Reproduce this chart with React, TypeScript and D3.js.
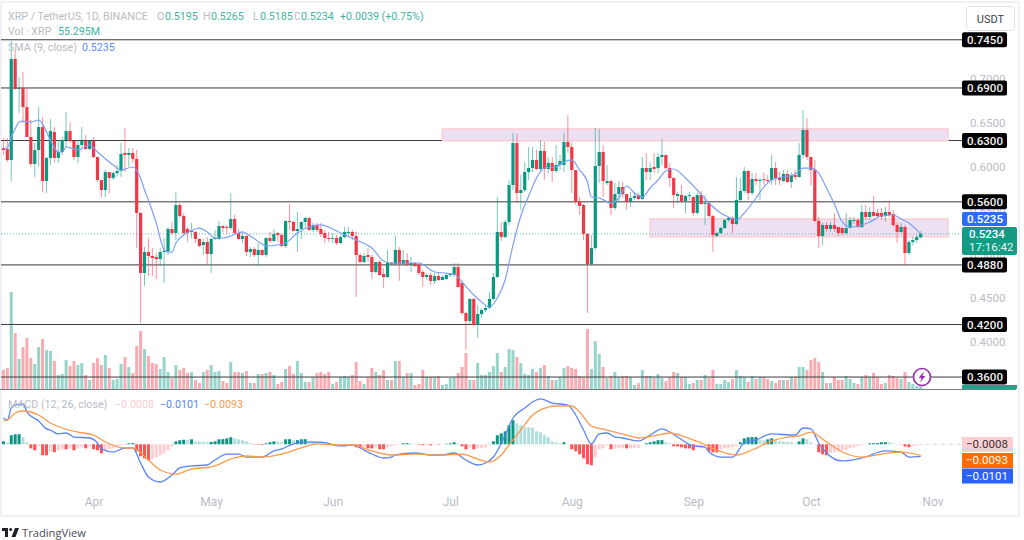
import React, { useEffect, useRef } from "react";
import * as d3 from "d3";

// Daily XRP/USDT candles. Index 0 is 9 March.
const opens = [
  .6214,.6203,.6078,.7231,.6888,.6899,.6682,.6340,.6032,.6192,
  .6454,.5838,.6101,.6397,.6101,.6169,.6306,.6408,.6294,.6112,
  .6249,.6294,.6203,.6294,.6112,.5849,.5735,.5940,.5872,.5929,
  .5952,.6158,.6135,.6158,.6090,.5473,.4788,.5027,.4982,.4970,
  .4947,.5027,.5039,.5290,.5244,.5564,.5438,.5290,.5256,.5256,
  .5176,.5107,.5141,.5005,.5176,.5176,.5324,.5313,.5301,.5404,
  .5244,.5176,.5210,.5027,.5061,.4993,.5050,.4993,.5187,.5153,
  .5244,.5221,.5096,.5381,.5370,.5267,.5290,.5370,.5416,.5279,
  .5336,.5290,.5244,.5187,.5176,.5187,.5130,.5198,.5244,.5256,
  .5210,.4993,.4913,.4993,.4970,.4799,.4913,.4776,.4742,.4902,
  .4891,.5050,.4891,.4936,.4879,.4902,.4879,.4799,.4742,.4765,
  .4697,.4753,.4708,.4719,.4765,.4765,.4856,.4674,.4331,.4240,
  .4491,.4194,.4319,.4365,.4388,.4491,.4742,.5256,.5198,.5370,
  .5792,.6272,.5701,.5735,.5940,.5986,.6078,.5975,.6181,.5975,
  .6044,.5952,.6021,.6021,.6283,.6226,.5963,.5610,.5564,.5233,
  .4890,.5073,.6009,.6169,.5815,.5838,.5530,.5689,.5769,.5689,
  .5598,.5644,.5678,.5632,.5986,.5940,.5998,.5986,.6112,.6135,
  .5986,.5872,.5667,.5678,.5610,.5667,.5655,.5473,.5678,.5575,
  .5587,.5438,.5210,.5244,.5301,.5393,.5416,.5347,.5621,.5724,
  .5952,.5701,.5860,.5838,.5860,.5849,.5849,.5986,.5872,.5838,
  .5918,.5826,.5906,.5884,.6135,.6420,.6112,.5963,.5381,.5210,
  .5336,.5290,.5336,.5313,.5301,.5244,.5301,.5381,.5393,.5313,
  .5484,.5427,.5484,.5473,.5473,.5438,.5484,.5461,.5336,.5256,
  .5313,.5016,.5141,.5164,.5195
];

const closes = [
  .6192,.6078,.7231,.6888,.6899,.6682,.6340,.6032,.6192,.6454,
  .5838,.6101,.6408,.6101,.6169,.6306,.6408,.6294,.6112,.6249,
  .6294,.6203,.6294,.6112,.5849,.5735,.5940,.5872,.5929,.5952,
  .6147,.6135,.6158,.6090,.5473,.4788,.5027,.4982,.4959,.4947,
  .5027,.5039,.5290,.5244,.5564,.5438,.5244,.5244,.5267,.5176,
  .5096,.5141,.5005,.5176,.5187,.5324,.5301,.5301,.5404,.5244,
  .5176,.5210,.5027,.5061,.4993,.5050,.4993,.5187,.5153,.5233,
  .5221,.5096,.5381,.5370,.5267,.5290,.5370,.5416,.5279,.5336,
  .5279,.5233,.5187,.5176,.5187,.5130,.5198,.5256,.5256,.5210,
  .4993,.4913,.4982,.4970,.4799,.4913,.4765,.4742,.4902,.4891,
  .5050,.4891,.4936,.4879,.4902,.4868,.4788,.4742,.4765,.4697,
  .4753,.4708,.4742,.4765,.4776,.4856,.4628,.4331,.4240,.4491,
  .4194,.4319,.4365,.4388,.4491,.4742,.5256,.5198,.5370,.5792,
  .6272,.5701,.5735,.5940,.5986,.6078,.5975,.6181,.5975,.6044,
  .5952,.6021,.6067,.6283,.6226,.5963,.5598,.5553,.5233,.4890,
  .5073,.6009,.6169,.5838,.5838,.5530,.5689,.5769,.5689,.5598,
  .5644,.5667,.5632,.5986,.5940,.5986,.5975,.6112,.6135,.5986,
  .5872,.5678,.5689,.5610,.5667,.5678,.5473,.5678,.5575,.5587,
  .5438,.5221,.5244,.5301,.5393,.5416,.5347,.5621,.5724,.5952,
  .5701,.5860,.5838,.5849,.5849,.5838,.5986,.5872,.5849,.5918,
  .5826,.5906,.5884,.6135,.6420,.6112,.5963,.5381,.5210,.5336,
  .5290,.5336,.5290,.5244,.5244,.5301,.5393,.5393,.5313,.5484,
  .5427,.5484,.5438,.5438,.5427,.5484,.5450,.5336,.5256,.5313,
  .5016,.5141,.5164,.5198,.5234
];

const highs = [
  .6329,.6329,.7436,.7333,.7025,.7082,.6899,.6534,.6272,.6682,
  .6568,.6112,.6545,.6454,.6306,.6340,.6625,.6511,.6306,.6306,
  .6454,.6363,.6306,.6340,.6112,.5849,.5963,.5940,.5940,.6021,
  .6272,.6443,.6215,.6215,.6192,.5484,.5084,.5187,.5073,.5016,
  .5073,.5187,.5313,.5370,.5712,.5587,.5473,.5313,.5359,.5267,
  .5187,.5176,.5198,.5187,.5279,.5381,.5336,.5336,.5701,.5450,
  .5290,.5244,.5221,.5084,.5084,.5130,.5061,.5198,.5256,.5290,
  .5256,.5244,.5393,.5575,.5381,.5484,.5381,.5427,.5427,.5359,
  .5359,.5359,.5279,.5256,.5244,.5221,.5221,.5313,.5313,.5279,
  .5256,.5016,.5016,.5073,.4993,.4913,.4936,.4845,.5050,.4913,
  .5210,.5084,.5050,.5016,.4970,.4913,.4902,.4822,.4788,.4788,
  .4788,.4799,.4765,.4788,.4788,.4902,.4902,.4685,.4342,.4502,
  .4502,.4422,.4388,.4422,.4571,.4788,.5655,.5370,.5393,.5849,
  .6386,.6374,.5906,.6055,.6226,.6226,.6192,.6306,.6283,.6112,
  .6112,.6249,.6135,.6386,.6590,.6272,.5963,.5655,.5575,.5244,
  .5221,.6443,.6431,.6249,.6021,.5849,.5815,.5838,.5826,.5689,
  .5712,.5712,.5701,.6112,.6158,.6055,.6158,.6158,.6317,.6135,
  .6044,.5884,.5712,.5792,.5678,.5712,.5667,.5701,.5724,.5678,
  .5598,.5450,.5256,.5313,.5404,.5427,.5438,.5884,.5872,.5998,
  .5963,.5929,.5929,.5872,.5929,.5906,.6135,.6055,.5940,.5963,
  .5963,.5940,.5963,.6272,.6648,.6557,.6112,.6078,.5427,.5359,
  .5370,.5370,.5473,.5313,.5313,.5473,.5427,.5427,.5416,.5564,
  .5564,.5541,.5667,.5519,.5530,.5541,.5610,.5507,.5370,.5359,
  .5336,.5164,.5198,.5221,.5265
];

const lows = [
  .6135,.6055,.5838,.6877,.6613,.6499,.6340,.5998,.5884,.5998,
  .5712,.5701,.6021,.6044,.6044,.6135,.6215,.6272,.6078,.6044,
  .6226,.6192,.6192,.6101,.5826,.5655,.5655,.5701,.5849,.5884,
  .5884,.5940,.5998,.6044,.5073,.4217,.4640,.4753,.4753,.4719,
  .4868,.4674,.4993,.5221,.5164,.5416,.5221,.5142,.5187,.5130,
  .5084,.4993,.4890,.4788,.5164,.5164,.5256,.5233,.5279,.5233,
  .5164,.5130,.4982,.4970,.4970,.4868,.4982,.4970,.5130,.5142,
  .5142,.5084,.5073,.5279,.5267,.5027,.5176,.5301,.5267,.5256,
  .5256,.5198,.5130,.5142,.5130,.5107,.5119,.5187,.5210,.5164,
  .4514,.4902,.4902,.4913,.4719,.4788,.4753,.4617,.4730,.4879,
  .4879,.4697,.4879,.4868,.4799,.4856,.4765,.4628,.4708,.4651,
  .4662,.4697,.4708,.4708,.4742,.4742,.4617,.4308,.3909,.4194,
  .4182,.4046,.4274,.4342,.4377,.4479,.4730,.5153,.5187,.5336,
  .5735,.5587,.5507,.5712,.5849,.5940,.5963,.5929,.5849,.5929,
  .5826,.5929,.5963,.5940,.6158,.5701,.5564,.5450,.5164,.4331,
  .4879,.5050,.5815,.5655,.5792,.5450,.5507,.5598,.5644,.5507,
  .5541,.5621,.5621,.5621,.5849,.5849,.5929,.5929,.6021,.5975,
  .5769,.5530,.5587,.5587,.5473,.5621,.5438,.5450,.5564,.5336,
  .5416,.5027,.5198,.5233,.5290,.5370,.5244,.5336,.5598,.5701,
  .5621,.5678,.5792,.5621,.5792,.5815,.5792,.5792,.5792,.5826,
  .5815,.5758,.5849,.5872,.6101,.6078,.5792,.5370,.5073,.5107,
  .5256,.5256,.5256,.5210,.5221,.5233,.5301,.5347,.5301,.5301,
  .5393,.5393,.5427,.5416,.5393,.5370,.5427,.5313,.5130,.5244,
  .4868,.4993,.5107,.5130,.5185
];

// Volume, millions of XRP
const volumes = [
  380,420,1940,1120,600,840,1020,620,500,840,
  1000,780,760,560,280,300,580,460,560,480,
  520,280,180,520,620,480,680,420,180,200,
  500,640,440,320,860,1160,800,660,520,500,
  400,640,340,220,480,380,420,320,340,180,
  120,340,380,480,340,360,160,120,540,340,
  340,320,360,120,120,300,300,320,340,280,
  100,140,400,460,300,560,320,140,140,240,
  320,340,300,340,100,140,240,260,240,280,
  540,160,100,240,420,340,280,380,180,180,
  560,560,240,320,320,80,100,380,240,240,
  240,260,80,100,220,240,320,440,720,180,
  180,520,280,280,340,460,720,340,440,800,
  780,640,520,300,280,400,340,420,480,260,
  180,180,240,420,460,420,400,260,240,1200,
  400,960,700,440,220,260,340,240,260,260,
  240,80,120,380,260,260,220,300,220,160,
  240,340,320,240,240,100,120,180,180,280,
  220,380,100,100,180,140,200,380,260,240,
  140,260,200,240,240,200,160,120,180,180,
  180,240,240,440,440,380,580,620,540,340,
  120,120,240,180,180,260,200,120,100,240,
  280,240,320,240,100,120,280,260,220,200,
  340,140,100,60,55.3
];

// MACD histogram, in thousandths
const histogram = [
  2.5,1.7,7.6,8.4,8.5,5.9,1.7,-3.4,-5,-1.7,
  -9.2,-9.3,-5.9,-6.7,-5,-4.2,-4.2,-3.4,-5,-3.4,
  -2.5,-3.4,-1.7,-4.2,-5,-7.6,-5,-4.2,-3.4,-2.5,
  -.8,-.6,.8,1,-5.9,-10.1,-11.8,-13.4,-12.6,-10.9,
  -9.2,-7.6,-5,-1.7,2.5,3.4,3.8,3.7,4.2,2.5,
  2.4,2.3,1.7,2,2.5,4.2,4.3,5,5.9,5,
  4.2,3.4,2.5,.8,-.3,-.4,-.6,.8,1.7,2.5,
  2.5,1.7,4.2,4.3,3.4,3.5,4.2,4.3,2.5,2.4,
  2.3,1.7,1.6,.8,.4,.1,-.8,-1.7,-1.6,-1.5,
  -2.5,-2.6,-2.4,-3.4,-3.5,-2.5,-4.2,-4.3,-2.5,-1.7,
  -.8,-.4,.8,.9,.8,.4,-.4,-.8,-.7,-.9,
  -.4,-.4,-.1,.4,.8,1.7,.8,-1.7,-4.2,-2.5,
  -4.2,-3.4,-3.3,-2.5,-.8,2.5,7.6,9.2,10.9,16,
  20.2,17.6,16,14.3,14.2,14.1,10.9,10.1,7.6,5.9,
  2.5,1.7,.8,1.7,.3,-4.2,-5.9,-8.4,-11.8,-16.8,
  -17.6,-10.9,-4.2,-3.4,-1,-4.2,-3.4,-3.3,-3.2,-3.4,
  -3.3,-3.2,-3.1,-.1,.8,1.7,2.5,3.4,3.5,1.7,
  .8,-1.7,-1.9,-2.5,-3.4,-3.5,-5,-2.5,-1.7,-1.6,
  -5.9,-6.7,-6.8,-4.2,-3.4,-3.3,-2.5,-1.7,1.7,5,
  5.9,6,6.1,3.4,3.3,4.2,5,3.4,2.5,2.4,
  2.3,1.7,.8,2.5,5,4.2,1.7,-.1,-6.7,-8.4,
  -9.2,-7.6,-6.7,-5.9,-5,-4.9,-3.4,-2.5,-1.7,-.8,
  -.1,.8,.9,1,1.7,1.8,1.6,.8,.2,-.2,
  -1.7,-2.5,-1.7,-1,-.8
];

// SMA(9) sampled along the curve
const smaDays = [0,1,2,3,4,5,7,9,10,12,14,15,16,18,19,22,24,28,30,33,35,36,37,39,41,42,43,44,46,49,50,52,54,56,58,60,61,63,66,67,70,72,75,78,81,84,86,90,94,97,99,102,106,110,115,117,120,122,124,126,128,130,132,134,136,138,141,143,145,147,149,150,152,155,157,159,161,163,165,167,169,171,174,177,180,183,185,187,189,192,194,196,199,202,204,206,208,210,212,214,216,218,221,224,227,229,231,234];
const smaValues = [.6203,.6214,.6340,.6431,.6511,.6522,.6511,.6534,.6488,.6306,.6169,.6169,.6226,.6203,.6192,.6249,.6169,.6021,.5963,.5998,.5872,.5735,.5621,.5359,.5050,.5027,.5027,.5130,.5221,.5290,.5301,.5256,.5187,.5187,.5210,.5244,.5256,.5210,.5119,.5096,.5107,.5130,.5244,.5313,.5336,.5290,.5244,.5164,.5073,.4925,.4902,.4902,.4902,.4799,.4776,.4685,.4536,.4457,.4399,.4502,.4708,.5107,.5438,.5666,.5872,.5986,.5998,.6055,.6078,.5963,.5826,.5655,.5644,.5587,.5644,.5781,.5701,.5655,.5758,.5849,.5952,.5975,.5872,.5735,.5587,.5473,.5427,.5393,.5473,.5644,.5769,.5849,.5884,.5918,.5986,.5986,.5929,.5758,.5575,.5370,.5313,.5324,.5370,.5438,.5450,.5404,.5359,.5235];

// MACD and signal lines, thousandths
const macdDays = [0,1,2,3,5,6,9,11,12,14,16,18,22,24,25,28,31,33,35,37,40,43,45,48,52,54,57,60,62,66,69,71,74,77,81,86,89,93,97,99,100,105,109,112,115,118,121,123,125,128,130,133,135,137,140,144,146,148,150,152,154,156,158,162,165,168,170,172,176,179,180,183,186,189,192,196,202,204,206,208,210,214,219,225,229,231,234];
const macdValues = [22.1,20.4,30.5,33,33.9,27.1,19.6,12.9,12,8.7,9.5,6.1,5.3,1.1,-3.9,-6.5,-3.1,-3.1,-15.7,-27.5,-31.7,-25.8,-19.9,-18.2,-17.4,-13.2,-8.2,-8.2,-10.7,-10.7,-5.6,-3.9,.3,1.9,1.9,-1.4,-.6,-6.5,-11.5,-10.7,-9,-7.3,-9,-9,-7.3,-13.2,-17.4,-15.7,-10.7,7.8,22.1,30.5,35.5,38.1,34.7,33,24.6,12,.3,8.7,9.5,6.1,5.3,2.8,7.8,12.9,10.3,6.1,-1.4,-2.3,-6.5,-10.7,-10.7,1.1,3.6,8.7,7.8,13.7,12.9,1.1,-7.3,-14,-11.5,-5.6,-6.5,-10.7,-10.1];
const signalDays = [0,1,3,5,9,12,15,19,23,26,31,33,37,40,44,48,53,59,62,66,71,76,80,86,89,94,99,105,112,117,121,124,127,129,132,135,139,141,145,147,150,154,159,162,166,170,174,178,182,187,191,196,200,203,206,210,214,219,224,229,234];
const signalValues = [19.6,20.4,26.3,28,24.6,17.9,13.7,10.3,7.8,1.9,-3.1,-3.1,-13.2,-21.6,-25,-20.8,-19,-11.5,-9.8,-10.7,-8.2,-3.1,.3,-.6,-.6,-5.6,-9,-8.2,-9,-8.2,-12.4,-14.9,-9,-.6,12,24.6,31.3,32.2,32.2,27.1,15.4,12,7.8,5.3,7,9.5,6.1,1.1,-4.8,-9,-4.8,2.8,6.1,7,10.3,1.9,-6.5,-10.7,-8.2,-6.5,-9.3];

// Hand drawn levels and zones
const levelValues = [.745,.69,.63,.56,.488,.42,.36];
const levelLabels = ["0.7450","0.6900","0.6300","0.5600","0.4880","0.4200","0.3600"];
const zoneTops = [.6432,.5404];
const zoneBottoms = [.6298,.5202];
const zoneStarts = [112,165];

const priceTicks = [.70,.65,.60,.55,.50,.45,.40];
const monthDays = [23,53,84,114,145,176,206,237];
const monthLabels = ["Apr","May","Jun","Jul","Aug","Sep","Oct","Nov"];

const FONT = "Roboto, 'Liberation Sans', sans-serif";
const UP = "#089981";
const DOWN = "#f23645";
const MUTED = "#b9bcc5";
const LEGEND_SIZE = 10.7;
const CHART_RIGHT = 962;

const App: React.FC = () => {
  const ref = useRef<SVGSVGElement>(null);

  useEffect(() => {
    if (!ref.current) return;
    const svg = d3.select(ref.current);
    svg.selectAll("*").remove();

    const x = d3.scaleLinear().domain([0, 237]).range([3.4, 932.4]);
    const y = d3.scaleLinear().domain([.65, .40]).range([123, 342]);
    const yVol = d3.scaleLinear().domain([0, 2000]).range([389, 289]);
    const yMacd = d3.scaleLinear().domain([0, 10]).range([444.3, 432.4]);
    const days = d3.range(closes.length);

    const text = (tx: number, ty: number, str: string, color: string, size = 11.5, anchor = "start") =>
      svg.append("text")
        .attr("x", tx).attr("y", ty)
        .attr("fill", color)
        .attr("font-family", FONT)
        .attr("font-size", size)
        .attr("text-anchor", anchor)
        .text(str);

    // panel frame
    svg.append("rect").attr("width", 1024).attr("height", 540).attr("fill", "#fff");
    svg.append("rect")
      .attr("x", 1).attr("y", 2).attr("width", 1018).attr("height", 514)
      .attr("fill", "#fff").attr("stroke", "#eff1f6").attr("stroke-width", 2);

    // price axis labels, most end up behind the black level tags
    const priceAxis = d3.axisRight(y)
      .tickValues(priceTicks)
      .tickSize(0)
      .tickPadding(0)
      .tickFormat(d3.format(".4f") as any);
    const axisG = svg.append("g").attr("transform", "translate(970,0)").call(priceAxis as any);
    axisG.select(".domain").remove();
    axisG.selectAll("text").attr("fill", MUTED).attr("font-family", FONT).attr("font-size", 11.5);

    // volume
    svg.append("g").selectAll("rect").data(days).enter().append("rect")
      .attr("x", (i: number) => x(i) - 1.5)
      .attr("width", 3)
      .attr("y", (i: number) => yVol(volumes[i]))
      .attr("height", (i: number) => yVol(0) - yVol(volumes[i]))
      .attr("fill", (i: number) => (closes[i] >= opens[i] ? UP : DOWN))
      .attr("opacity", 0.42);

    svg.append("line")
      .attr("x1", 0).attr("x2", 1016).attr("y1", 389.5).attr("y2", 389.5)
      .attr("stroke", "#787b86").attr("stroke-width", 1);

    // level lines
    svg.append("g").selectAll("line").data(levelValues).enter().append("line")
      .attr("x1", 1).attr("x2", CHART_RIGHT)
      .attr("y1", (d: number) => y(d)).attr("y2", (d: number) => y(d))
      .attr("stroke", "#3a3a3f").attr("stroke-width", 1);

    // zones
    svg.append("g").selectAll("rect").data(zoneTops).enter().append("rect")
      .attr("x", (_d: number, i: number) => x(zoneStarts[i]))
      .attr("width", (_d: number, i: number) => 948 - x(zoneStarts[i]))
      .attr("y", (d: number) => y(d))
      .attr("height", (d: number, i: number) => y(zoneBottoms[i]) - y(d))
      .attr("fill", "#eee0f3")
      .attr("stroke", "#fbcdd2")
      .attr("stroke-width", 1.5);

    // last price line
    svg.append("line")
      .attr("x1", 1).attr("x2", CHART_RIGHT)
      .attr("y1", y(closes[closes.length - 1])).attr("y2", y(closes[closes.length - 1]))
      .attr("stroke", UP).attr("stroke-width", 1)
      .attr("stroke-dasharray", "1 2").attr("opacity", 0.6);

    // candles
    const candles = svg.append("g").selectAll("g").data(days).enter().append("g");
    candles.append("line")
      .attr("x1", (i: number) => x(i)).attr("x2", (i: number) => x(i))
      .attr("y1", (i: number) => y(highs[i])).attr("y2", (i: number) => y(lows[i]))
      .attr("stroke", (i: number) => (closes[i] >= opens[i] ? UP : DOWN))
      .attr("stroke-opacity", 0.55)
      .attr("stroke-width", 1);
    candles.append("rect")
      .attr("x", (i: number) => x(i) - 1.6)
      .attr("width", 3.2)
      .attr("y", (i: number) => y(Math.max(opens[i], closes[i])))
      .attr("height", (i: number) => Math.max(1, Math.abs(y(opens[i]) - y(closes[i]))))
      .attr("fill", (i: number) => (closes[i] >= opens[i] ? UP : DOWN));

    // SMA
    const smaLine = d3.line<number>()
      .x((d: number) => x(d))
      .y((_d: number, i: number) => y(smaValues[i]))
      .curve(d3.curveMonotoneX);
    svg.append("path")
      .attr("d", smaLine(smaDays))
      .attr("fill", "none").attr("stroke", "#7d9ff5").attr("stroke-width", 1.2);

    // MACD pane
    const histColor = (i: number) => {
      const prev = i > 0 ? histogram[i - 1] : 0;
      if (histogram[i] >= 0) return prev < histogram[i] ? "#0c9484" : "#b2dfdb";
      return prev < histogram[i] ? "#ffcdd2" : "#ff5252";
    };
    svg.append("line")
      .attr("x1", 925).attr("x2", CHART_RIGHT).attr("y1", yMacd(0)).attr("y2", yMacd(0))
      .attr("stroke", "#d6d8de").attr("stroke-dasharray", "4 4");
    svg.append("g").selectAll("rect").data(days).enter().append("rect")
      .attr("x", (i: number) => x(i) - 1.5)
      .attr("width", 3)
      .attr("y", (i: number) => Math.min(yMacd(histogram[i]), yMacd(0)))
      .attr("height", (i: number) => Math.abs(yMacd(histogram[i]) - yMacd(0)))
      .attr("fill", histColor);

    const macdLine = d3.line<number>()
      .x((d: number) => x(d))
      .y((_d: number, i: number) => yMacd(macdValues[i]))
      .curve(d3.curveMonotoneX);
    const signalLine = d3.line<number>()
      .x((d: number) => x(d))
      .y((_d: number, i: number) => yMacd(signalValues[i]))
      .curve(d3.curveMonotoneX);
    svg.append("path").attr("d", macdLine(macdDays))
      .attr("fill", "none").attr("stroke", "#5b84f8").attr("stroke-width", 1.3);
    svg.append("path").attr("d", signalLine(signalDays))
      .attr("fill", "none").attr("stroke", "#fb9a4b").attr("stroke-width", 1.3);

    // time axis
    const timeAxis = d3.axisBottom(x)
      .tickValues(monthDays)
      .tickSize(0)
      .tickPadding(0)
      .tickFormat((_d: any, i: number) => monthLabels[i]);
    const timeG = svg.append("g").attr("transform", "translate(0,497)").call(timeAxis as any);
    timeG.select(".domain").remove();
    timeG.selectAll("text").attr("fill", MUTED).attr("font-family", FONT).attr("font-size", 12);

    // level tags
    levelValues.forEach((d: number, i: number) => {
      svg.append("rect")
        .attr("x", 962).attr("y", y(d) - 7.5).attr("width", 45).attr("height", 15).attr("rx", 2)
        .attr("fill", "#000");
      text(985, y(d) + 4.2, levelLabels[i], "#f2f2f2", 11.5, "middle").attr("font-weight", 500);
    });

    // SMA and last price tags
    svg.append("rect").attr("x", 962).attr("y", 212).attr("width", 45).attr("height", 14).attr("rx", 2).attr("fill", "#2f6bff");
    text(985, 223, "0.5235", "#fff", 11.5, "middle").attr("font-weight", 500);
    svg.append("rect").attr("x", 962).attr("y", 227).attr("width", 55).attr("height", 28).attr("rx", 2).attr("fill", "#139c85");
    text(969, 238, "0.5234", "#fff", 11.5).attr("font-weight", 500);
    text(969, 251, "17:16:42", "#e9f6f3", 11.5);
    svg.append("rect").attr("x", 962).attr("y", 385).attr("width", 55).attr("height", 4).attr("fill", "#22a18c");

    // MACD tags
    svg.append("rect").attr("x", 962).attr("y", 437).attr("width", 51).attr("height", 15).attr("fill", "#ffcdd2");
    text(987, 448, "−0.0008", "#333", 11.5, "middle");
    svg.append("rect").attr("x", 962).attr("y", 453).attr("width", 51).attr("height", 15).attr("fill", "#ff6d00");
    text(987, 464, "−0.0093", "#fff", 11.5, "middle");
    svg.append("rect").attr("x", 962).attr("y", 468.5).attr("width", 51).attr("height", 15).attr("fill", "#2962ff");
    text(987, 480, "−0.0101", "#fff", 11.5, "middle");

    // USDT button
    svg.append("rect")
      .attr("x", 966.5).attr("y", 6.5).attr("width", 48).attr("height", 24).attr("rx", 3)
      .attr("fill", "#fff").attr("stroke", "#e0e3eb");
    text(990.5, 22.5, "USDT", "#3c3f48", 11, "middle");

    // legend
    text(8, 20, "XRP / TetherUS, 1D, BINANCE", MUTED, LEGEND_SIZE);
    const ohlc: [number, string, number, string][] = [
      [157, "O", 165, "0.5195"],
      [203, "H", 211, "0.5265"],
      [253, "L", 260, "0.5185"],
      [294, "C", 301, "0.5234"],
    ];
    ohlc.forEach(([lx, letter, vx, value]) => {
      text(lx, 20, letter, MUTED, LEGEND_SIZE);
      text(vx, 20, value, "#3fb5a0", LEGEND_SIZE);
    });
    text(340, 20, "+0.0039 (+0.75%)", "#3fb5a0", LEGEND_SIZE);
    text(8, 35, "Vol · XRP", MUTED, LEGEND_SIZE);
    text(58, 35, "55.295M", "#3fb5a0", LEGEND_SIZE);
    text(8, 51, "SMA (9, close)", MUTED, LEGEND_SIZE);
    text(82, 51, "0.5235", "#5f8cf8", LEGEND_SIZE);
    text(8, 408, "MACD (12, 26, close)", MUTED, LEGEND_SIZE);
    text(115, 408, "−0.0008", "#fbcdd2", LEGEND_SIZE);
    text(160, 408, "−0.0101", "#5b84f8", LEGEND_SIZE);
    text(204, 408, "−0.0093", "#fb9a4b", LEGEND_SIZE);

    // lightning badge
    svg.append("circle")
      .attr("cx", 922).attr("cy", 377).attr("r", 8.5)
      .attr("fill", "#fff").attr("stroke", "#9c27b0").attr("stroke-width", 1.6);
    svg.append("path")
      .attr("d", "M924,371.5 L918.5,378 L921.5,378 L920,382.5 L925.5,376 L922.5,376 Z")
      .attr("fill", "#9c27b0");

    // TradingView mark
    svg.append("path")
      .attr("d", "M2,528 H8 V537 H5 V531 H2 Z M15,528 H19 L15.5,537 H11.5 Z")
      .attr("fill", "#1f2128");
    svg.append("circle").attr("cx", 10.6).attr("cy", 529.5).attr("r", 1.5).attr("fill", "#1f2128");
    text(22, 537, "TradingView", "#4a4d57", 11.2).attr("font-family", "'Open Sans', sans-serif");
  }, []);

  return (
    <svg
      ref={ref}
      width={1024}
      height={540}
      style={{ position: "absolute", left: 0, top: 0 }}
    />
  );
};

export default App;
